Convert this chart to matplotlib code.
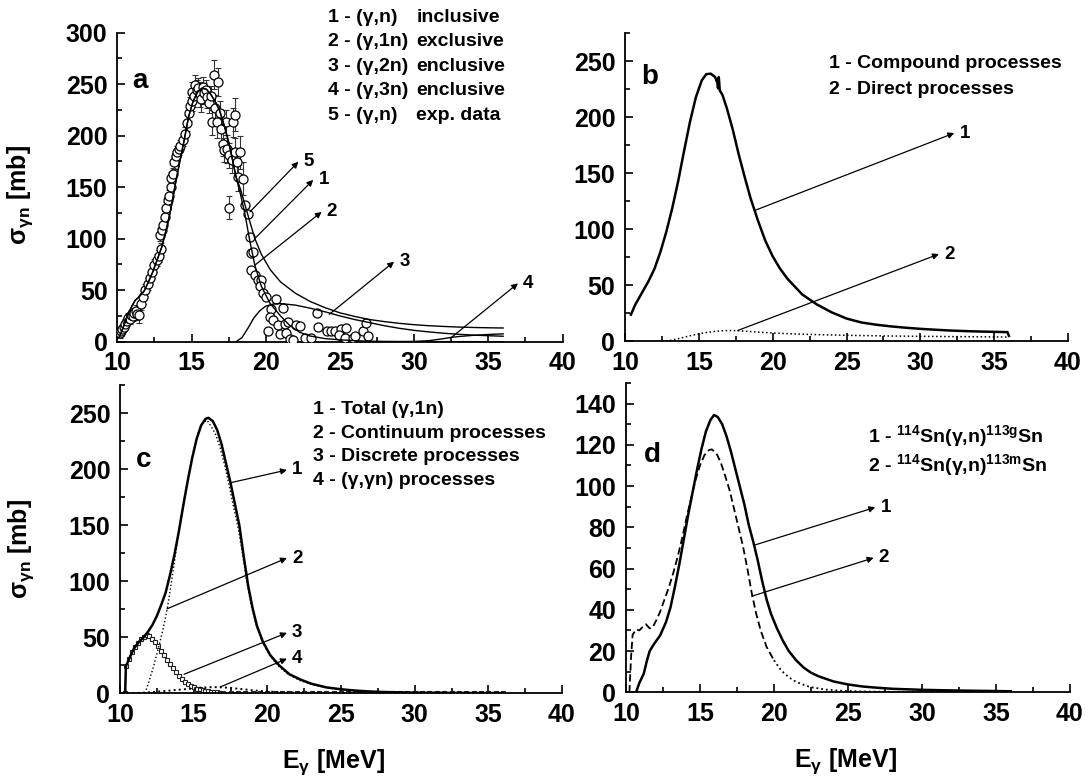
#! /usr/bin/env python3
# Photoneutron cross sections on 114Sn, four panels a-d

import numpy as np
import matplotlib
matplotlib.use('Agg')
import matplotlib.pyplot as plt
from matplotlib.ticker import MultipleLocator

plt.rcParams['font.family'] = ['Liberation Sans', 'DejaVu Sans']
plt.rcParams['font.weight'] = 'bold'
plt.rcParams['mathtext.default'] = 'regular'

# ---------- panel a ----------
a_rise_e = [10.15, 10.4, 10.7, 11.0, 11.2, 11.5, 11.8, 12.1, 12.4, 12.7, 13.0, 13.3,
            13.6, 13.9, 14.2, 14.5, 14.8, 15.1, 15.4, 15.7, 16.0, 16.3, 16.6, 16.9,
            17.2, 17.5, 17.8, 18.0]
a_rise_sig = [5, 14, 26, 35, 40, 44, 49, 58, 68, 80, 92, 109, 128, 152, 174, 195, 218,
              233, 242, 246, 245, 240, 233, 224, 210, 194, 174, 160]
a1_tail_e = [18.3, 18.6, 18.9, 19.27, 19.7, 20.3, 21.0, 22.0, 23.0, 24.0, 25.0, 26.0,
             27.0, 28.0, 29.0, 30.0, 31.0, 32.0, 33.0, 34.0, 35.0, 36.0]
a1_tail_sig = [148, 133, 118, 100, 85, 70, 58, 47, 39, 33, 28, 24.5, 21.5, 19.5, 17.8,
               16.5, 15.5, 14.8, 14.2, 13.8, 13.5, 13.3]
a2_tail_e = [18.3, 18.6, 18.9, 19.27, 19.7, 20.3, 21.0, 21.6, 22.3, 23.0, 24.0, 25.0,
             26.0, 27.0, 28.0, 30.0, 33.0, 36.0]
a2_tail_sig = [143, 124, 100, 74, 54, 37, 25, 16, 9, 5.5, 3, 1.8, 1.0, 0.5, 0.3, 0.1,
               0.05, 0.0]
a3_e = [18.0, 18.4, 18.8, 19.2, 19.6, 20.0, 20.5, 21.0, 22.0, 23.0, 24.0, 25.0, 26.0,
        27.0, 28.0, 29.0, 30.0, 31.0, 32.0, 33.0, 34.0, 35.0, 36.0]
a3_sig = [0, 4, 13, 23, 30, 34.5, 36.5, 37, 35.5, 32.5, 29, 25, 21.5, 18.5, 15.5, 13,
          11, 9.5, 8.2, 7.2, 6.4, 5.8, 5.3]
a4_e = [29.0, 30.0, 31.0, 32.0, 32.5, 33.0, 34.0, 35.0, 36.0]
a4_sig = [0, 0.2, 1.0, 3.0, 4.2, 5.0, 6.2, 7.0, 7.6]

# experimental (gamma,n) points
exp_e = [10.15, 10.25, 10.35, 10.45, 10.55, 10.65, 10.75, 10.85, 10.95, 11.05, 11.15,
         11.25, 11.35, 11.45, 11.6, 11.75, 11.9, 12.05, 12.2, 12.35, 12.5, 12.65, 12.8,
         12.95, 12.85, 13.0, 13.1, 13.2, 13.3, 13.4, 13.5, 13.6, 13.65, 13.75, 13.85,
         13.95, 14.05, 14.15, 14.25, 14.4, 14.55, 14.7, 14.8, 14.9, 15.0, 15.05, 15.15,
         15.25, 15.35, 15.45, 15.55, 15.65, 15.75, 15.85, 15.95, 16.05, 16.15, 16.3,
         16.35, 16.5, 16.6, 16.7, 16.8, 16.9, 17.0, 17.1, 17.2, 17.3, 17.4, 17.5, 17.55,
         17.7, 17.8, 17.9, 17.95, 18.05, 18.15, 18.3, 18.45,
         18.59, 18.82, 18.93, 19.04, 19.15, 19.04, 19.26, 19.49, 19.71, 19.6, 19.82,
         20.05, 20.68, 20.38, 21.17, 20.27, 20.5, 20.16, 20.83, 20.95, 21.28, 21.5, 21.4,
         22.07, 22.29, 21.62, 21.84, 22.63, 23.08, 23.46, 23.53, 24.13, 24.43, 24.65,
         25.1, 25.44, 24.94, 25.32, 25.88, 25.99, 26.56, 26.74, 26.9]
exp_sig = [8, 10, 12, 14, 17, 20, 23, 22, 26, 25, 28, 30, 27, 26, 37, 43, 50, 56, 62,
           68, 74, 79, 83, 90, 104, 108, 113, 121, 130, 137, 141, 150, 159, 163, 174,
           180, 184, 187, 190, 196, 202, 212, 222, 229, 242, 234, 238, 249, 244, 246,
           240, 235, 247, 241, 244, 237, 232, 238, 213, 259, 227, 213, 252, 222, 206,
           192, 186, 213, 187, 130, 181, 176, 213, 220, 184, 174, 160, 184, 158,
           133, 124, 102, 86, 87, 70, 65, 60, 60, 54, 47, 43, 41, 32, 33, 24, 21, 10,
           16, 7, 17, 19, 8, 16, 15, 2.3, 1.6, 3.2, 3.2, 27.5, 14.5, 10.3, 10.3, 10.3,
           11.9, 12.9, 6.5, 3.2, 3.2, 5.5, 10.7, 17.8, 5.5]
exp_err = [4, 4, 4, 4, 5, 5, 5, 5, 5, 5, 5, 6, 6, 8, 6, 6, 6, 6, 6, 6, 6, 6, 6, 6, 6,
           6, 6, 6, 6, 6, 6, 6, 6, 6, 6, 6, 6, 6, 6, 6, 6, 8, 8, 8, 10, 10, 10, 10, 10,
           10, 12, 12, 10, 10, 10, 10, 10, 10, 12, 14, 12, 15, 14, 12, 12, 12, 12, 12,
           14, 11, 12, 12, 14, 16, 14, 14, 14, 16, 16,
           0, 0, 0, 0, 0, 0, 0, 0, 0, 0, 0, 0, 0, 0, 0, 0, 0, 0, 0, 0, 0, 0, 0, 0, 0,
           0, 0, 0, 0, 0, 0, 0, 0, 0, 0, 0, 0, 0, 0, 0, 0, 0, 0]

# ---------- panel b ----------
b1_e = [10.4, 10.7, 11.0, 11.3, 11.6, 12.0, 12.4, 12.8, 13.2, 13.6, 14.0, 14.4, 14.8,
        15.2, 15.5, 15.8, 16.1, 16.25, 16.3, 16.35, 16.42, 16.6, 16.9, 17.3, 17.7,
        18.1, 18.5, 19.0, 19.5, 20.0, 20.5, 21.0, 22.0, 23.0, 24.0, 25.0, 26.0, 27.0,
        28.0, 29.0, 30.0, 31.0, 32.0, 33.0, 34.0, 35.0, 35.9, 36.0]
b1_sig = [24, 33, 40, 47, 54, 65, 80, 98, 119, 143, 170, 196, 218, 233, 238.5, 239,
          236, 231, 226, 236, 224, 220, 208, 189, 167, 147, 128, 108, 90, 76, 65, 56,
          42, 33, 26, 20.5, 17, 15, 13.5, 12.3, 11.3, 10.5, 9.8, 9.3, 8.9, 8.6, 8.4, 5]
b2_e = [12.5, 13.0, 13.5, 14.0, 14.5, 15.0, 15.5, 16.0, 16.5, 17.0, 17.5, 18.0, 19.0,
        20.0, 21.0, 22.0, 24.0, 26.0, 28.0, 30.0, 32.0, 34.0, 36.0]
b2_sig = [0, 0.8, 2.2, 3.8, 5.4, 6.8, 8.0, 8.9, 9.5, 9.8, 9.7, 9.3, 8.4, 7.6, 7.0, 6.5,
          5.8, 5.3, 4.9, 4.6, 4.4, 4.2, 4.0]

# ---------- panel c ----------
c1_e = [10.35, 10.4, 10.6, 10.8, 11.0, 11.3, 11.6, 11.9, 12.2, 12.5, 12.8, 13.1, 13.4,
        13.7, 14.0, 14.3, 14.6, 14.9, 15.2, 15.5, 15.8, 16.0, 16.3, 16.6, 16.9, 17.2,
        17.5, 17.8, 18.1, 18.4, 18.7, 19.0, 19.3, 19.7, 20.2, 20.8, 21.5, 22.3, 23.0,
        24.0, 25.0, 26.0, 27.0, 28.0, 30.0, 33.0, 36.0]
c1_sig = [0, 24, 30, 36, 41, 46, 50, 55, 61, 69, 79, 90, 106, 124, 145, 168, 190, 210,
          227, 239, 245, 246, 243, 235, 222, 205, 188, 169, 150, 122, 96, 76, 60, 46,
          34, 25, 17, 12, 8.5, 5.3, 3.6, 2.4, 1.6, 1.1, 0.6, 0.3, 0.2]
c2_e = [11.7, 12.0, 12.3, 12.6, 12.9, 13.2, 13.5, 13.8, 14.1, 14.4, 14.7, 15.0, 15.3,
        15.6, 15.9, 16.2, 16.5, 16.8, 17.1, 17.4, 17.7, 18.0, 18.3, 18.6, 18.9, 19.2,
        19.6, 20.1, 20.7, 21.4, 22.2, 23.0, 24.0, 25.0, 27.0, 30.0, 36.0]
c2_sig = [0, 12, 25, 40, 56, 75, 100, 127, 154, 177, 198, 217, 232, 241, 244, 238, 231,
          219, 204, 186, 167, 149, 126, 100, 79, 63, 48, 35, 25, 17, 11.5, 8, 5, 3.2,
          1.3, 0.5, 0.2]
c3_e = [10.35, 10.4, 10.6, 10.8, 11.0, 11.2, 11.4, 11.6, 11.8, 12.0, 12.2, 12.4, 12.6,
        12.8, 13.0, 13.2, 13.4, 13.6, 13.8, 14.0, 14.2, 14.4, 14.6, 14.8, 15.0, 15.2,
        15.4, 15.6, 15.8, 16.0, 16.2, 16.4, 16.6, 16.8, 17.0, 17.5, 18.0, 18.5, 19.0,
        19.5, 20.0, 20.5, 21.0, 21.5, 22.0, 22.5, 23.0, 23.5, 24.0, 24.5, 25.0, 25.5,
        26.0, 26.5, 27.0, 27.5, 28.0, 28.5, 29.0, 29.5, 30.0, 30.5, 31.0, 31.5, 32.0,
        32.5, 33.0, 33.5, 34.0, 34.5, 35.0, 35.5, 36.0]
c3_sig = [0, 24.3, 31, 37, 41.5, 45, 48.5, 50.5, 52, 51, 48.5, 45.5, 42, 38, 34, 30, 26,
          22.5, 19, 15.5, 13, 10.5, 8.3, 6.5, 5.2, 4.2, 3.6, 3.0, 2.4, 1.9, 1.5, 1.2,
          0.9, 0.7, 0.6, 0.4, 0.3, 0.2, 0.1, 0.1, 0, 0, 0, 0, 0, 0, 0, 0, 0, 0, 0, 0, 0,
          0, 0, 0, 0, 0, 0, 0, 0, 0, 0, 0, 0, 0, 0, 0, 0, 0, 0, 0, 0]
c4_e = [10.5, 11.0, 11.5, 12.0, 12.5, 13.0, 13.5, 14.0, 14.5, 15.0, 15.5, 16.0, 16.5,
        17.0, 17.5, 18.0, 18.5, 19.0, 19.5, 20.0, 21.0, 22.0, 24.0, 27.0, 30.0, 36.0]
c4_sig = [0, 0.2, 0.5, 0.9, 1.4, 2.0, 2.6, 3.2, 3.8, 4.4, 5.0, 5.4, 5.5, 5.3, 4.8, 4.1,
          3.4, 2.7, 2.1, 1.6, 1.0, 0.6, 0.3, 0.1, 0.05, 0.0]

# ---------- panel d ----------
d1_e = [10.68, 10.9, 11.2, 11.4, 11.6, 11.9, 12.3, 12.7, 13.0, 13.3, 13.6, 13.9, 14.2,
        14.5, 14.8, 15.1, 15.4, 15.7, 15.95, 16.2, 16.5, 16.8, 17.1, 17.4, 17.7, 18.0,
        18.3, 18.6, 18.9, 19.2, 19.5, 19.8, 20.2, 20.6, 21.0, 21.5, 22.0, 22.5, 23.0,
        24.0, 25.0, 26.0, 27.0, 28.0, 30.0, 32.0, 34.0, 36.0]
d1_sig = [0, 4.5, 9, 15, 20, 23.5, 27.5, 34, 41, 51, 62, 74, 86, 97, 108, 118, 126.5,
          132, 134.5, 133.5, 130, 124, 116.5, 108, 99.5, 91, 81, 73, 64, 54, 45, 38,
          31, 25, 20, 15.5, 12, 9.5, 7.8, 5.3, 3.8, 2.8, 2.2, 1.7, 1.2, 0.9, 0.7, 0.5]
d2_e = [10.23, 10.35, 10.45, 10.7, 10.9, 11.1, 11.35, 11.6, 11.8, 12.05, 12.3, 12.6,
        12.9, 13.2, 13.5, 13.8, 14.1, 14.4, 14.7, 15.0, 15.3, 15.6, 15.8, 16.1, 16.4,
        16.7, 17.0, 17.3, 17.6, 17.9, 18.2, 18.5, 18.8, 19.1, 19.5, 20.0]
d2_sig = [0, 18, 28, 30.5, 30, 31.5, 33, 31, 31.5, 35, 39, 45, 51, 58, 66, 75, 85, 94,
          103, 110, 115, 117.5, 117.8, 116, 111.5, 105, 98, 89, 80, 71, 60, 48, 38, 30,
          22, 15.5]
d2_tail_e = [20.0, 20.5, 21.0, 21.5, 22.4, 23.5, 24.5, 26.0, 28.0, 32.0, 36.0]
d2_tail_sig = [15.5, 10.5, 7.3, 5.0, 2.6, 1.3, 0.8, 0.4, 0.2, 0.1, 0.0]

W, H = 1089, 778
fig = plt.figure(figsize=(W / 100, H / 100), dpi=100)


def box(l, r, t, b):
    return [l / W, 1 - b / H, (r - l) / W, (b - t) / H]


ax_a = fig.add_axes(box(117.3, 562.5, 32.5, 341.7))
ax_b = fig.add_axes(box(625, 1068, 33.3, 341.5))
ax_c = fig.add_axes(box(120, 562, 385.3, 693.3))
ax_d = fig.add_axes(box(626, 1070, 383, 692.3))

for ax in (ax_a, ax_b, ax_c, ax_d):
    ax.spines['top'].set_visible(False)
    ax.spines['right'].set_visible(False)
    ax.spines['left'].set_linewidth(1.3)
    ax.spines['bottom'].set_linewidth(1.3)
    ax.set_xlim(10, 40)
    ax.xaxis.set_major_locator(MultipleLocator(5))
    ax.xaxis.set_minor_locator(MultipleLocator(2.5))
    ax.tick_params(which='both', direction='in', width=1.2, labelsize=18)
    ax.tick_params(which='major', length=6)
    ax.tick_params(which='minor', length=3.5)
    ax.tick_params(axis='x', pad=7)
    ax.tick_params(axis='y', pad=7)
    for lab in ax.get_xticklabels() + ax.get_yticklabels():
        lab.set_fontweight('bold')


def arrow(ax, base, head, label, size=13.5):
    ax.annotate('', xy=head, xytext=base,
                arrowprops=dict(arrowstyle='-|>', color='k', lw=0.9,
                                mutation_scale=9, shrinkA=0, shrinkB=0))
    ax.text(head[0] + 0.35, head[1], label, fontsize=size, fontweight='bold',
            ha='left', va='center')


# panel a
ax_a.set_ylim(0, 300)
ax_a.yaxis.set_major_locator(MultipleLocator(50))
ax_a.yaxis.set_minor_locator(MultipleLocator(25))
ax_a.errorbar(exp_e, exp_sig, yerr=exp_err, fmt='none', ecolor='#333333',
              elinewidth=0.8, capsize=2.5, capthick=0.8, zorder=2)
ax_a.plot(exp_e, exp_sig, 'o', ms=6.5, mfc='white', mec='k', mew=0.9, zorder=3)
ax_a.plot(a_rise_e + a1_tail_e, a_rise_sig + a1_tail_sig, 'k-', lw=1.0, zorder=4)
ax_a.plot(a_rise_e + a2_tail_e, a_rise_sig + a2_tail_sig, 'k-', lw=1.0, zorder=4)
ax_a.plot(a3_e, a3_sig, 'k-', lw=1.0, zorder=4)
ax_a.plot(a4_e, a4_sig, 'k-', lw=1.0, zorder=4)
arrow(ax_a, (18.94, 126), (22.2, 174.6), '5')
arrow(ax_a, (19.28, 100.3), (23.2, 157), '1')
arrow(ax_a, (19.28, 74.4), (23.77, 126), '2')
arrow(ax_a, (24.29, 26.6), (28.65, 77.6), '3')
arrow(ax_a, (32.53, 4.3), (37.0, 56.6), '4')
ax_a.text(11.0, 253, 'a', fontsize=20, fontweight='bold', va='center')
a_leg_l = ['1 - (γ,n)', '2 - (γ,1n)', '3 - (γ,2n)', '4 - (γ,3n)', '5 - (γ,n)']
a_leg_r = ['inclusive', 'exclusive', 'enclusive', 'enclusive', 'exp. data']
for i, (l, r) in enumerate(zip(a_leg_l, a_leg_r)):
    y = 315 - i * 23.8
    ax_a.text(24.2, y, l, fontsize=14, fontweight='bold', va='center')
    ax_a.text(30.15, y, r, fontsize=14, fontweight='bold', va='center')
ax_a.set_ylabel('σ$_{γn}$ [mb]', fontsize=18, fontweight='bold')
ax_a.yaxis.set_label_coords(-0.185, 0.474)

# panel b
ax_b.set_ylim(0, 275)
ax_b.yaxis.set_major_locator(MultipleLocator(50))
ax_b.yaxis.set_minor_locator(MultipleLocator(25))
ax_b.plot(b1_e, b1_sig, 'k-', lw=1.8)
ax_b.plot(b2_e, b2_sig, 'k:', lw=1.1)
arrow(ax_b, (18.8, 117), (32.3, 186), '1')
arrow(ax_b, (17.63, 9.8), (31.26, 78), '2')
ax_b.text(11.1, 236, 'b', fontsize=20, fontweight='bold', va='center')
ax_b.text(23.8, 248, '1 - Compound processes', fontsize=14, fontweight='bold', va='center')
ax_b.text(23.8, 225, '2 - Direct processes', fontsize=14, fontweight='bold', va='center')

# panel c
ax_c.set_ylim(0, 275)
ax_c.yaxis.set_major_locator(MultipleLocator(50))
ax_c.yaxis.set_minor_locator(MultipleLocator(25))
ax_c.plot(c3_e, c3_sig, 's-', color='k', ms=3.4, mfc='white', mec='#222222', mew=0.8,
          lw=0.8)
ax_c.plot(c4_e, c4_sig, 'k:', lw=1.4)
ax_c.plot(c2_e, c2_sig, 'k:', lw=1.0)
ax_c.plot(c1_e, c1_sig, 'k-', lw=1.8)
arrow(ax_c, (17.5, 188), (21.33, 199.4), '1')
arrow(ax_c, (13.19, 75.4), (21.33, 120.8), '2')
arrow(ax_c, (14.35, 17), (21.33, 54), '3')
arrow(ax_c, (16.8, 5.6), (21.33, 30.9), '4')
ax_c.text(11.1, 208, 'c', fontsize=20, fontweight='bold', va='center')
c_leg = ['1 - Total (γ,1n)', '2 - Continuum processes', '3 - Discrete processes',
         '4 - (γ,γn) processes']
for i, t in enumerate(c_leg):
    ax_c.text(23.1, 253.5 - i * 21.2, t, fontsize=14, fontweight='bold', va='center')
ax_c.set_ylabel('σ$_{γn}$ [mb]', fontsize=18, fontweight='bold')
ax_c.yaxis.set_label_coords(-0.19, 0.47)
ax_c.set_xlabel('E$_{γ}$ [MeV]', fontsize=18, fontweight='bold')
ax_c.xaxis.set_label_coords(0.482, -0.175)

# panel d
ax_d.set_ylim(0, 150)
ax_d.yaxis.set_major_locator(MultipleLocator(20))
ax_d.yaxis.set_minor_locator(MultipleLocator(10))
ax_d.plot(d2_e, d2_sig, 'k--', lw=1.3, dashes=(4, 2))
ax_d.plot(d2_tail_e, d2_tail_sig, 'k:', lw=1.3)
ax_d.plot(d1_e, d1_sig, 'k-', lw=1.8)
arrow(ax_d, (18.69, 71.4), (26.84, 89.7), '1')
arrow(ax_d, (18.5, 46.6), (26.73, 65.2), '2')
ax_d.text(11.2, 115, 'd', fontsize=20, fontweight='bold', va='center')
ax_d.text(26.37, 124.1, '1 - $^{114}$Sn(γ,n)$^{113g}$Sn', fontsize=14, fontweight='bold',
          va='center')
ax_d.text(26.37, 110.3, '2 - $^{114}$Sn(γ,n)$^{113m}$Sn', fontsize=14, fontweight='bold',
          va='center')
ax_d.set_xlabel('E$_{γ}$ [MeV]', fontsize=18, fontweight='bold')
ax_d.xaxis.set_label_coords(0.495, -0.175)

fig.savefig('out.png', dpi=100)
